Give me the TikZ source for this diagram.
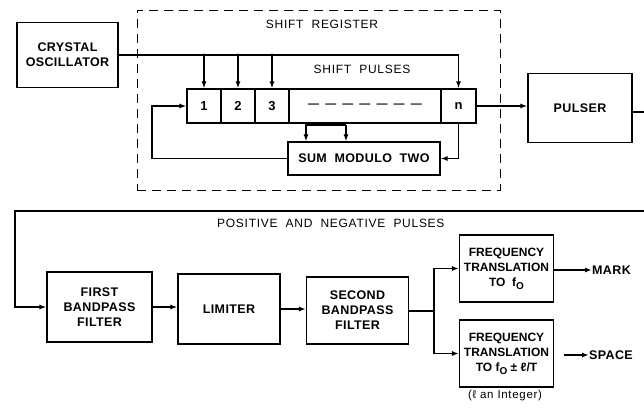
\documentclass[tikz,border=0pt]{standalone}
\usepackage{fontspec}
\setmainfont{Liberation Sans}
\newfontfamily\lblfont[LetterSpace=6]{Liberation Sans}
\newfontfamily\blkfont[LetterSpace=3]{Liberation Sans}
\usetikzlibrary{arrows.meta}
\begin{document}
\begin{tikzpicture}[x=1pt,y=-1pt,
  blk/.style={draw, line width=1.1pt, align=center, inner sep=0pt,
    font=\blkfont\bfseries\fontsize{12.5}{15}\selectfont},
  ftblk/.style={blk, font=\bfseries\fontsize{12}{15}\selectfont},
  cell/.style={draw, line width=1.1pt, inner sep=0pt, minimum height=34pt,
    font=\blkfont\bfseries\fontsize{13}{14}\selectfont},
  lbl/.style={inner sep=0pt, font=\lblfont\fontsize{12}{14}\selectfont},
  wire/.style={line width=1.7pt},
  arr/.style={wire, -{Latex[length=7pt,width=5pt]}},
  dot/.style={circle, fill, inner sep=0pt, minimum size=3.4pt}]
\useasboundingbox (0,0) rectangle (644,407);
% shift register frame
\node[draw, dashed, dash pattern=on 9pt off 6pt, line width=1pt,
  minimum width=363pt, minimum height=180pt] (sr) at (318.5,100) {};
\node[lbl] (srl) at (322,24) {SHIFT\ \ REGISTER};
% blocks
\node[blk, minimum width=101pt, minimum height=65pt] (osc) at (67.5,55) {CRYSTAL\\OSCILLATOR};
\node[cell, minimum width=34pt] (c1) at (204,106) {1};
\node[cell, minimum width=34pt] (c2) at (238,106) {2};
\node[cell, minimum width=34pt] (c3) at (272,106) {3};
\node[cell, minimum width=152pt, font=\bfseries\fontsize{11}{14}\selectfont] (cd) at (365,106) {— \ — \ — \ — \ — \ — \ —};
\node[cell, minimum width=35pt] (cn) at (458.5,106) {n};
\node[blk, minimum width=152pt, minimum height=33pt] (sum) at (364,158.5) {SUM\ \ MODULO\ \ TWO};
\node[lbl] (spl) at (362,69) {SHIFT\ \ PULSES};
\node[blk, minimum width=104pt, minimum height=69pt] (pul) at (580,108) {PULSER};
\node[blk, minimum width=105pt, minimum height=70pt] (fbf) at (99.5,307) {FIRST\\BANDPASS\\FILTER};
\node[blk, minimum width=102pt, minimum height=70pt] (lim) at (229,309) {LIMITER};
\node[blk, minimum width=102pt, minimum height=67pt] (sbf) at (357.5,310.5) {SECOND\\BANDPASS\\FILTER};
\node[ftblk, minimum width=94pt, minimum height=67pt] (ft1) at (506.5,268.5) {FREQUENCY\\TRANSLATION\\TO\ \ f\raisebox{-3pt}{\fontsize{10}{10}\selectfont O}};
\node[ftblk, minimum width=94pt, minimum height=67pt] (ft2) at (506.5,353.5) {FREQUENCY\\TRANSLATION\\TO f\raisebox{-3pt}{\fontsize{10}{10}\selectfont O} ± ℓ/T};
\node[lbl, font=\lblfont\fontsize{11.5}{12}\selectfont] (int) at (505,396) {(ℓ an Integer)};
\node[lbl, font=\blkfont\bfseries\fontsize{12.5}{14}\selectfont, anchor=west] (mark) at (592,270) {MARK};
\node[lbl, font=\blkfont\bfseries\fontsize{12.5}{14}\selectfont, anchor=west] (space) at (589,355) {SPACE};
\node[lbl, anchor=west] (pnl) at (217,223) {POSITIVE\ \ AND\ \ NEGATIVE\ \ PULSES};
% coordinates
\coordinate (ta) at (306,123);
\coordinate (tb) at (346,125);
\coordinate (fb) at (152,0);
\coordinate (pe) at (644,112);
\coordinate (ra) at (644,211);
\coordinate (la) at (15,211);
\coordinate (br) at (434,311);
% shift pulses
\draw[wire] (osc.east) -- (cn.north |- osc.east);
\draw[arr] (cn.north |- osc.east) -- (cn.north);
\foreach \c in {c1,c2,c3}{
  \node[dot] (d\c) at (\c.north |- osc.east) {};
  \draw[arr] (d\c.center) -- (\c.north);
}
% register to sum
\draw[arr] (ta) -- (ta |- sum.north);
\draw[wire] (ta |- tb) -- (tb);
\draw[arr] (tb) -- (tb |- sum.north);
\draw[arr] (cn.south) |- (sum.east);
% feedback
\draw[arr] (sum.west) -- (fb |- sum.west) -- (fb |- c1.west) -- (c1.west);
% to pulser
\draw[arr] (cn.east) -- (pul.west |- cn.east);
\draw[wire] (pul.east |- pe) -- (pe);
% lower chain
\draw[arr] (ra) -- (la) |- (fbf.west);
\draw[arr] (fbf.east) -- (lim.west |- fbf.east);
\draw[arr] (lim.east) -- (sbf.west |- lim.east);
\draw[wire] (sbf.east |- br) -- (br);
\draw[arr] (br) |- (ft1.west);
\draw[arr] (br) |- (ft2.west);
\draw[arr] (ft1.east |- mark.west) -- (mark.west);
\draw[arr, shorten <=10pt] (ft2.east |- space.west) -- (space.west);
\end{tikzpicture}
\end{document}
